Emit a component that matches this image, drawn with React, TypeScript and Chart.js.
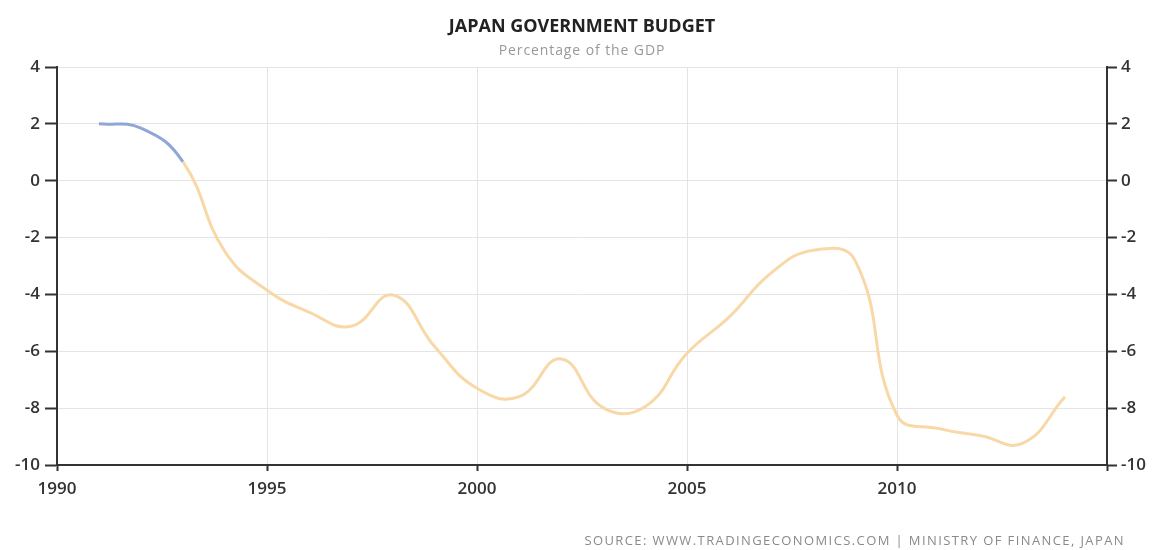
import React, { useEffect, useRef } from "react";
import { Chart, registerables } from "chart.js";

Chart.register(...registerables);

const years = [1991, 1992, 1993, 1994, 1995, 1996, 1997, 1998, 1999, 2000, 2001, 2002, 2003, 2004, 2005, 2006, 2007, 2008, 2009, 2010, 2011, 2012, 2013, 2014];
const budgetValues = [2.0, 1.85, 0.66, -2.5, -3.85, -4.62, -5.12, -4.02, -5.85, -7.3, -7.6, -6.27, -7.98, -7.95, -6.07, -4.8, -3.25, -2.45, -2.8, -8.25, -8.72, -8.97, -9.23, -7.6];
const blueSegments = 2; // first two segments drawn in blue
const yTicks = [-10, -8, -6, -4, -2, 0, 2, 4];
const xTickLabels = [1990, 1995, 2000, 2005, 2010];

const TITLE = "JAPAN GOVERNMENT BUDGET";
const SUBTITLE = "Percentage of the GDP";
const SOURCE = "SOURCE: WWW.TRADINGECONOMICS.COM | MINISTRY OF FINANCE, JAPAN";

const BLUE = "#8fa6d8";
const ORANGE = "#f8d8a6";
const AXIS = "#333333";
const GRID = "#e4e4e4";
const FONT = "'Open Sans', 'DejaVu Sans', sans-serif";

export default function App() {
  const canvasRef = useRef<HTMLCanvasElement | null>(null);

  useEffect(() => {
    document.body.style.margin = "0";
    const canvas = canvasRef.current;
    if (!canvas) return;
    const tickFont = { family: FONT, size: 17, weight: 600 as any };
    const chart = new Chart(canvas, {
      type: "line",
      data: {
        datasets: [
          {
            data: years.map((y, i) => ({ x: y, y: budgetValues[i] })),
            borderColor: ORANGE,
            borderWidth: 3,
            pointRadius: 0,
            tension: 0.45,
            fill: false,
            segment: {
              borderColor: (ctx: any) => (ctx.p0DataIndex < blueSegments ? BLUE : ORANGE),
            },
          },
        ],
      },
      options: {
        responsive: false,
        animation: false,
        layout: { padding: { top: 67, left: 0, right: 0, bottom: 0 } },
        plugins: {
          legend: { display: false },
          tooltip: { enabled: false },
          title: { display: false },
        },
        scales: {
          x: {
            type: "linear",
            min: 1990,
            max: 2015,
            afterBuildTicks: (s: any) => {
              s.ticks = [...xTickLabels, 2015].map((v) => ({ value: v }));
            },
            ticks: {
              autoSkip: false,
              color: AXIS,
              font: tickFont,
              padding: 8,
              maxRotation: 0,
              callback: (v: any) => (xTickLabels.includes(Number(v)) ? String(v) : ""),
            },
            grid: { color: GRID, tickColor: AXIS, tickLength: 6, tickWidth: 2, lineWidth: 1 },
            border: { color: AXIS, width: 2 },
            afterFit: (s: any) => {
              s.height = 85;
            },
          },
          y: {
            position: "left",
            min: -10,
            max: 4,
            afterBuildTicks: (s: any) => {
              s.ticks = yTicks.map((v) => ({ value: v }));
            },
            ticks: { color: AXIS, font: tickFont, padding: 5 },
            grid: { color: GRID, tickColor: AXIS, tickLength: 12, tickWidth: 2, lineWidth: 1 },
            border: { color: AXIS, width: 2 },
            afterFit: (s: any) => {
              s.width = 57;
            },
          },
          y1: {
            position: "right",
            min: -10,
            max: 4,
            afterBuildTicks: (s: any) => {
              s.ticks = yTicks.map((v) => ({ value: v }));
            },
            ticks: { color: AXIS, font: tickFont, padding: 4 },
            grid: { drawOnChartArea: false, tickColor: AXIS, tickLength: 10, tickWidth: 2 },
            border: { color: AXIS, width: 2 },
            afterFit: (s: any) => {
              s.width = 47;
            },
          },
        },
      },
    });
    return () => chart.destroy();
  }, []);

  return (
    <div style={{ position: "relative", width: 1154, height: 550, background: "#fff", fontFamily: FONT }}>
      <canvas ref={canvasRef} width={1154} height={550} style={{ display: "block" }} />
      <div
        style={{
          position: "absolute",
          left: 57,
          width: 1050,
          top: 14,
          textAlign: "center",
          fontSize: 18,
          fontWeight: 700,
          lineHeight: "22px",
          color: "#222",
        }}
      >
        {TITLE}
      </div>
      <div
        style={{
          position: "absolute",
          left: 57,
          width: 1050,
          top: 41,
          textAlign: "center",
          fontSize: 14,
          letterSpacing: "0.9px",
          lineHeight: "18px",
          color: "#999",
        }}
      >
        {SUBTITLE}
      </div>
      <div
        style={{
          position: "absolute",
          right: 29,
          top: 531,
          fontSize: 13,
          lineHeight: "18px",
          letterSpacing: "1.4px",
          color: "#8a8a8a",
          whiteSpace: "nowrap",
        }}
      >
        {SOURCE}
      </div>
    </div>
  );
}
